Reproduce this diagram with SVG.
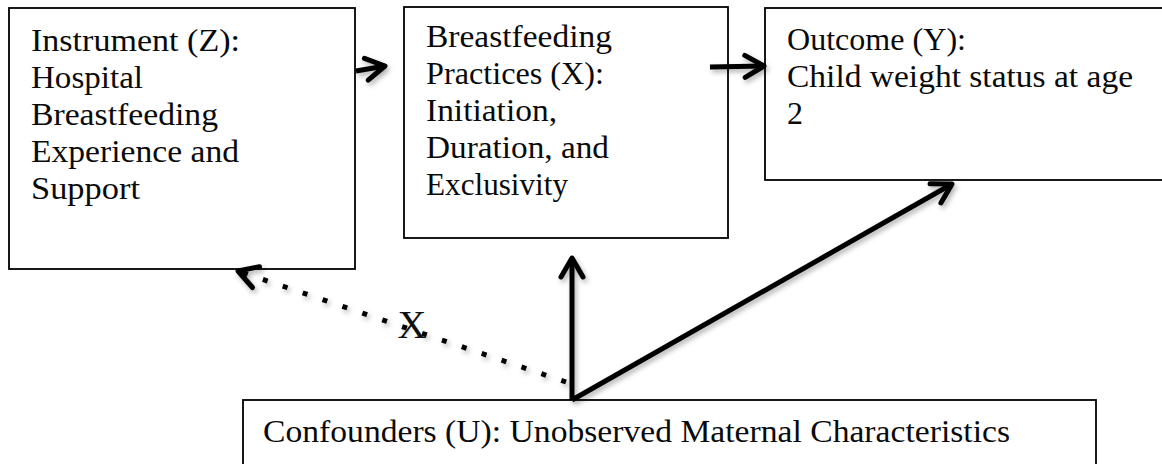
<svg xmlns="http://www.w3.org/2000/svg" width="1162" height="464" viewBox="0 0 1162 464">
<style>
.box{fill:#fff;stroke:#000;stroke-width:1.8}
.t{font-family:"Liberation Serif","Times New Roman",serif;font-size:32px;fill:#0a0a0a}
.arr{fill:none;stroke:#000;stroke-width:5;stroke-linecap:butt;marker-end:url(#chev)}
.dot{fill:none;stroke:#000;stroke-width:5;stroke-dasharray:5 16;marker-end:url(#chev)}
</style>
<defs>
<marker id="chev" markerUnits="userSpaceOnUse" viewBox="-24 -14 28 28" refX="0" refY="0" markerWidth="28" markerHeight="28" orient="auto" overflow="visible">
<path d="M-19,-11 L0,0 L-19,11" fill="none" stroke="#000" stroke-width="5" stroke-linecap="round" stroke-linejoin="round"/>
</marker>
<filter id="sh" x="-10%" y="-10%" width="130%" height="130%">
<feDropShadow dx="2" dy="3" stdDeviation="2.5" flood-color="#000" flood-opacity="0.3"/>
</filter>
</defs>
<rect width="1162" height="464" fill="#fff"/>
<g id="instrument">
<rect class="box" x="9" y="8" width="346" height="261"/>
<text class="t" x="31" y="51" textLength="209" lengthAdjust="spacingAndGlyphs">Instrument (Z):</text>
<text class="t" x="31" y="88" textLength="112" lengthAdjust="spacingAndGlyphs">Hospital</text>
<text class="t" x="31" y="125" textLength="187" lengthAdjust="spacingAndGlyphs">Breastfeeding</text>
<text class="t" x="31" y="162" textLength="208" lengthAdjust="spacingAndGlyphs">Experience and</text>
<text class="t" x="31" y="199" textLength="109" lengthAdjust="spacingAndGlyphs">Support</text>
</g>
<g id="practices">
<rect class="box" x="404" y="7" width="324" height="231"/>
<text class="t" x="426" y="47" textLength="186" lengthAdjust="spacingAndGlyphs">Breastfeeding</text>
<text class="t" x="426" y="84" textLength="178" lengthAdjust="spacingAndGlyphs">Practices (X):</text>
<text class="t" x="426" y="121" textLength="131" lengthAdjust="spacingAndGlyphs">Initiation,</text>
<text class="t" x="426" y="158" textLength="183" lengthAdjust="spacingAndGlyphs">Duration, and</text>
<text class="t" x="426" y="195" textLength="142" lengthAdjust="spacingAndGlyphs">Exclusivity</text>
</g>
<g id="outcome">
<rect class="box" x="765" y="8" width="400" height="172"/>
<text class="t" x="787" y="50" textLength="179" lengthAdjust="spacingAndGlyphs">Outcome (Y):</text>
<text class="t" x="787" y="87" textLength="346" lengthAdjust="spacingAndGlyphs">Child weight status at age</text>
<text class="t" x="787" y="124">2</text>
</g>
<g id="confounders">
<rect class="box" x="243" y="400" width="853" height="80"/>
<text class="t" x="263" y="442" textLength="747" lengthAdjust="spacingAndGlyphs">Confounders (U): Unobserved Maternal Characteristics</text>
</g>
<g id="connectors" filter="url(#sh)">
<path class="arr" d="M356,71 L385,66"/>
<path class="arr" d="M710,67 L764,66"/>
<path class="arr" d="M572,400 L572,258"/>
<path class="arr" d="M572,400 L952,184"/>
<path class="dot" d="M566,382 L238,271"/>
</g>
<g id="label-x">
<text x="412" y="338" text-anchor="middle" style="font-family:'Liberation Serif','Times New Roman',serif;font-size:40px;fill:#111">X</text>
</g>
</svg>
